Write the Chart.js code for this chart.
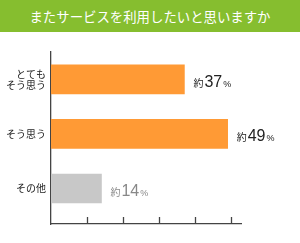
<!DOCTYPE html>
<html><head><meta charset="utf-8">
<script src="https://cdn.jsdelivr.net/npm/chart.js@4"></script>
<style>
html,body{margin:0;padding:0;background:#fff;width:300px;height:243px;overflow:hidden;}
#hdr{height:32px;background:#86be2f;color:#fff;font-family:"Noto Sans CJK JP",sans-serif;font-size:13.4px;line-height:32px;text-align:center;}
#wrap{position:relative;width:300px;height:211px;}
</style></head>
<body>
<div id="hdr">またサービスを利用したいと思いますか</div>
<div id="wrap"><canvas id="c" width="300" height="211"></canvas></div>
<script>
const titleText = "またサービスを利用したいと思いますか";
const categories = [["とても","そう思う"], "そう思う", "その他"];
const values = [37, 49, 14];
const xTicks = [10, 20, 30, 40, 50];
const barColors = ["#ff9a35", "#ff9a35", "#c8c8c8"];
const labelColors = ["#222222", "#222222", "#888888"];

const FONT = '"Liberation Sans", "Noto Sans CJK JP", sans-serif';
const JFONT = '"Noto Sans CJK JP", sans-serif';

const tickPlugin = {
  id: 'innerTicks',
  afterDraw(chart) {
    const xs = chart.scales.x, ctx = chart.ctx;
    const b = chart.chartArea.bottom;
    ctx.save();
    ctx.strokeStyle = '#444';
    ctx.lineWidth = 1.3;
    xTicks.forEach(v => {
      const x = Math.round(xs.getPixelForValue(v)) + 0.5;
      ctx.beginPath(); ctx.moveTo(x, b - 7); ctx.lineTo(x, b); ctx.stroke();
    });
    ctx.restore();
  }
};

const valuePlugin = {
  id: 'valueLabels',
  afterDatasetsDraw(chart) {
    const ctx = chart.ctx;
    const meta = chart.getDatasetMeta(0);
    ctx.save();
    ctx.textBaseline = 'alphabetic';
    ctx.textAlign = 'left';
    meta.data.forEach((bar, i) => {
      let x = bar.x + 9;
      const y = bar.y + 7.5;
      ctx.fillStyle = labelColors[i];
      ctx.font = '10px ' + JFONT;
      ctx.fillText('約', x, y);
      x += ctx.measureText('約').width + 1;
      ctx.font = '16px ' + FONT;
      const n = String(values[i]);
      ctx.fillText(n, x, y);
      x += ctx.measureText(n).width + 1;
      ctx.font = '9px ' + FONT;
      ctx.fillText('%', x, y);
    });
    ctx.restore();
  }
};

new Chart(document.getElementById('c'), {
  type: 'bar',
  data: {
    datasets: [{
      data: values.map((v, i) => ({ x: v, y: i })),
      backgroundColor: barColors,
      borderWidth: 0,
      barThickness: 29
    }]
  },
  options: {
    indexAxis: 'y',
    responsive: false,
    animation: false,
    events: [],
    layout: { padding: { top: 20, right: 59, bottom: 19, left: 0 } },
    plugins: { legend: { display: false }, tooltip: { enabled: false } },
    scales: {
      x: {
        type: 'linear',
        min: 0, max: 52.7,
        grid: { display: false, drawTicks: false },
        border: { display: true, color: '#444', width: 1.3 },
        ticks: { display: false }
      },
      y: {
        type: 'linear',
        reverse: true,
        offset: false,
        bounds: 'data',
        min: -0.5, max: 2.65,
        afterDataLimits(s) { s.min = -0.5; s.max = 2.65; },
        afterBuildTicks(s) { s.ticks = categories.map((c, i) => ({ value: i })); s.min = -0.5; s.max = 2.65; },
        afterFit(s) { s.width = 51; },
        grid: { display: false, drawTicks: false, offset: false },
        border: { display: true, color: '#444', width: 1.3 },
        ticks: {
          padding: 5,
          color: '#222',
          font: { family: JFONT, size: 10, lineHeight: 1.1 },
          callback: (v) => categories[v]
        }
      }
    }
  },
  plugins: [tickPlugin, valuePlugin]
});
</script>
</body></html>
